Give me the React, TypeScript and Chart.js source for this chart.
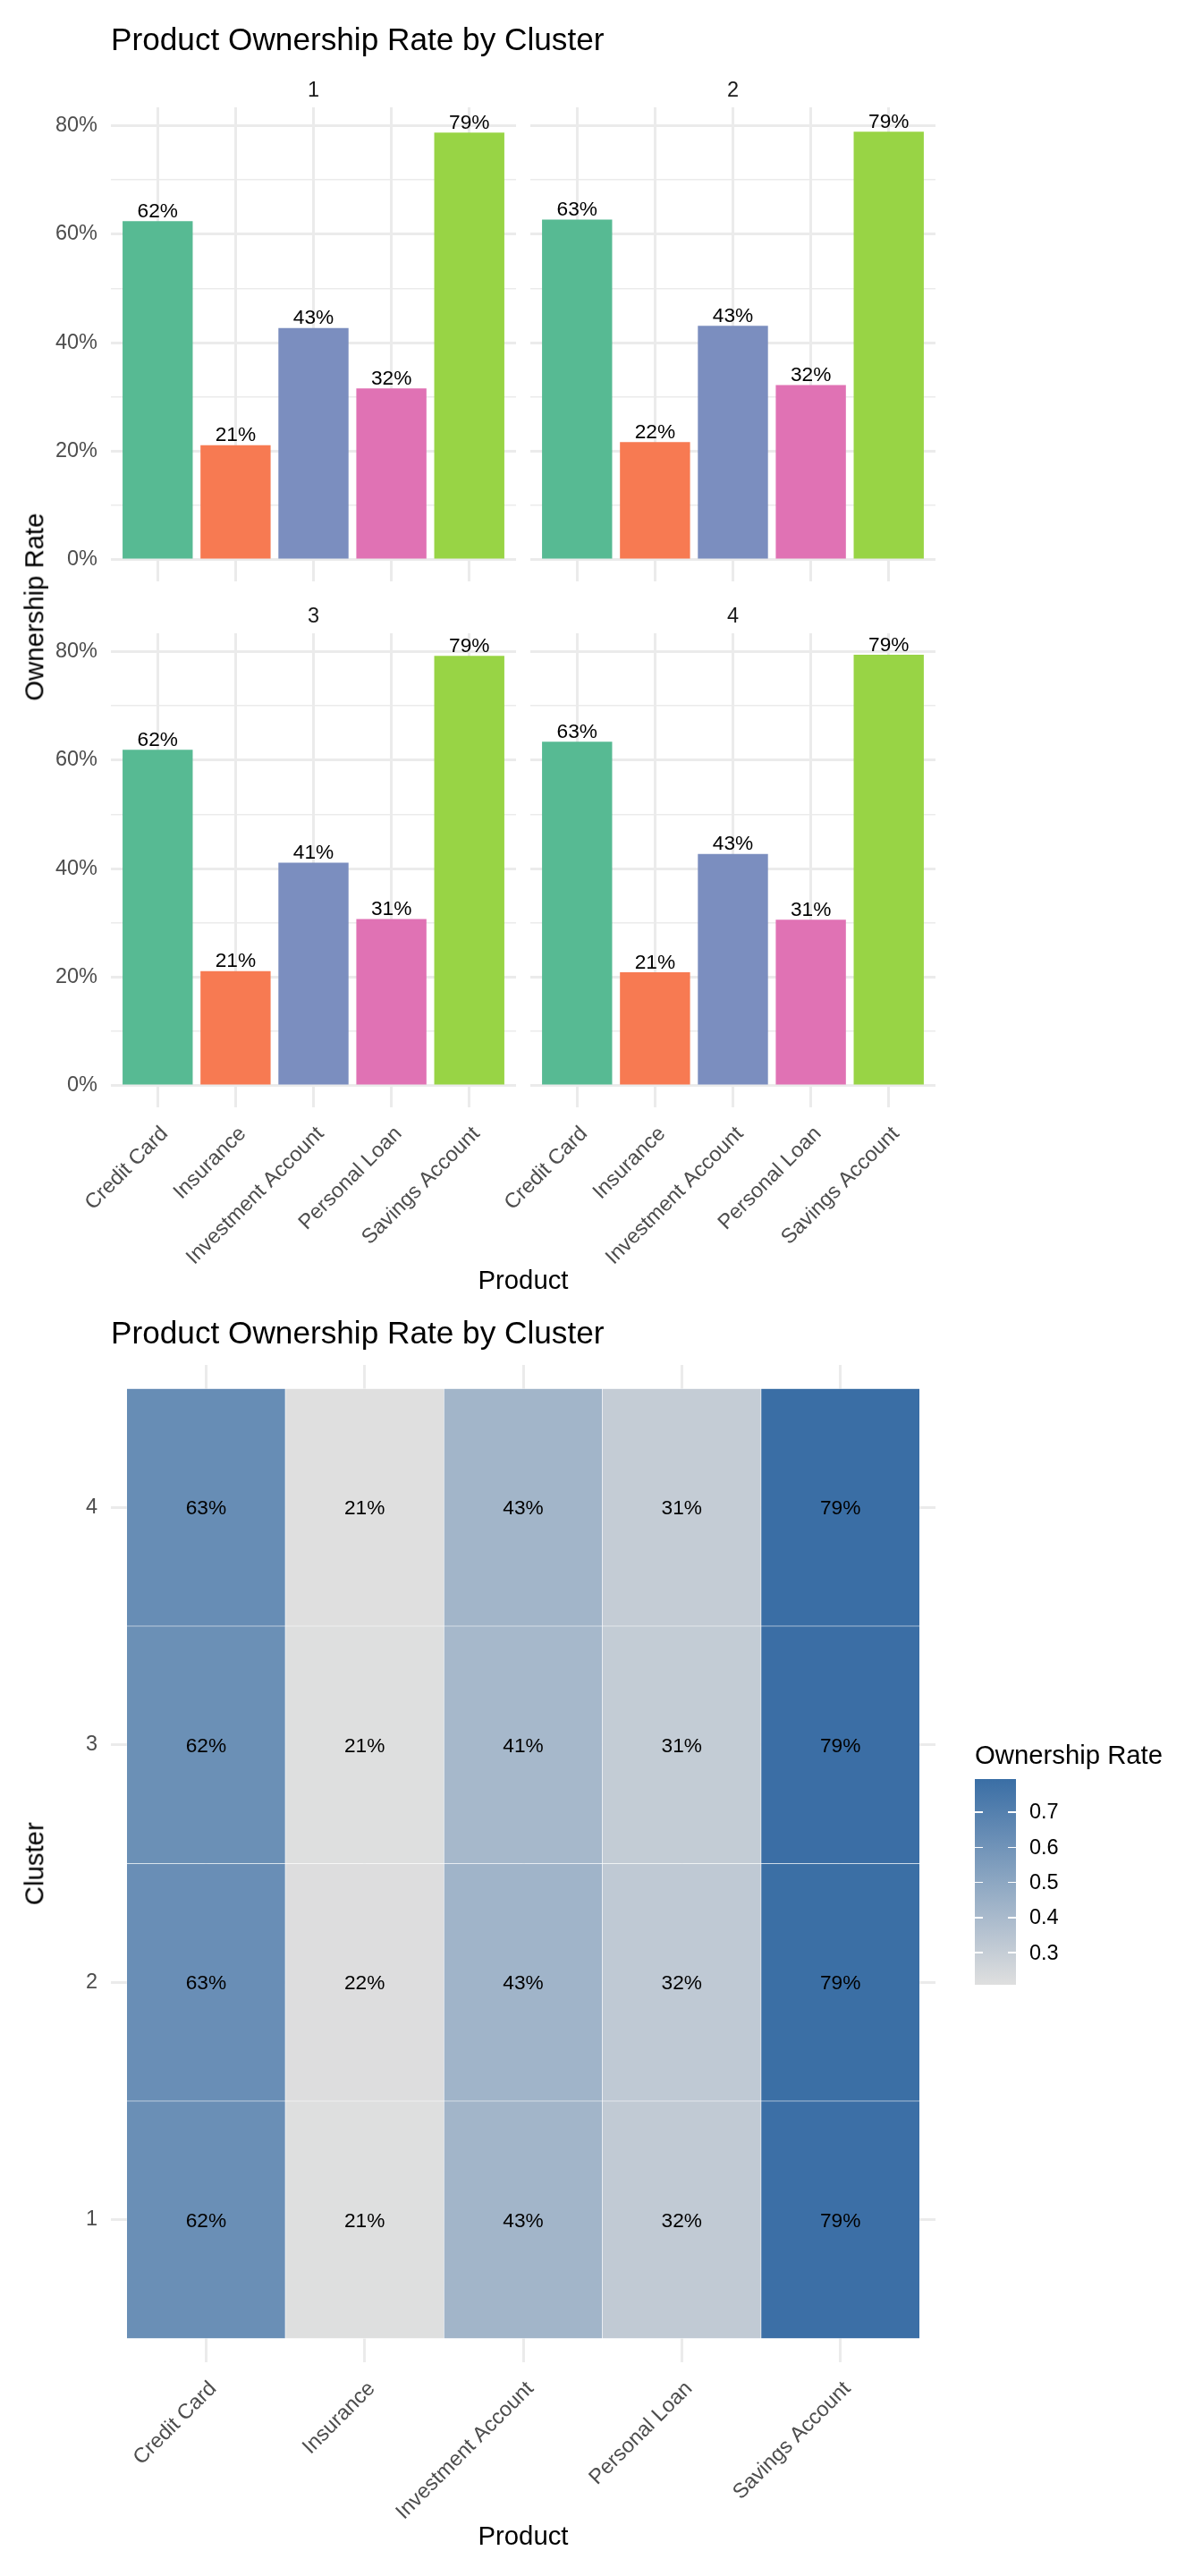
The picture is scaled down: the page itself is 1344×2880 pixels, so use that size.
import React, { useEffect, useRef } from "react";
import { Chart, registerables } from "chart.js";

Chart.register(...registerables);

// ---------------- data ----------------
const PRODUCTS = ["Credit Card", "Insurance", "Investment Account", "Personal Loan", "Savings Account"];
const CLUSTERS = ["1", "2", "3", "4"];
const CLUSTER_1 = [0.624, 0.211, 0.427, 0.316, 0.787];
const CLUSTER_2 = [0.627, 0.217, 0.431, 0.322, 0.789];
const CLUSTER_3 = [0.619, 0.211, 0.411, 0.307, 0.792];
const CLUSTER_4 = [0.634, 0.209, 0.427, 0.306, 0.794];
const CLUSTER_VALUES = [CLUSTER_1, CLUSTER_2, CLUSTER_3, CLUSTER_4];
const LEGEND_TICKS = [0.3, 0.4, 0.5, 0.6, 0.7];
const TITLE = "Product Ownership Rate by Cluster";

// ---------------- style ----------------
const FONT = '"Liberation Sans", Arial, Helvetica, sans-serif';
const BAR_COLORS = ["#57BA93", "#F77A52", "#7B8EBF", "#E072B4", "#98D445"];
const GRID = "#EBEBEB";
const AXIS_TEXT = "#4D4D4D";
const HEAT_LOW = [223, 223, 223];
const HEAT_HIGH = [58, 110, 165];
const PAD = 80;

Chart.defaults.font.family = FONT;

const ALL_VALUES = CLUSTER_VALUES.flat();
const DATA_MAX = Math.max(...ALL_VALUES);
const HEAT_MIN = Math.min(...ALL_VALUES);
const HEAT_MAX = DATA_MAX;
const Y_MIN = -DATA_MAX * 0.05;
const Y_MAX = DATA_MAX * 1.05;

const pct = (v: number) => `${Math.round(v * 100)}%`;

function heatColor(v: number) {
  const t = (v - HEAT_MIN) / (HEAT_MAX - HEAT_MIN);
  const c = HEAT_LOW.map((lo, i) => Math.round(lo + (HEAT_HIGH[i] - lo) * t));
  return `rgb(${c[0]},${c[1]},${c[2]})`;
}
const rgb = (c: number[]) => `rgb(${c[0]},${c[1]},${c[2]})`;

type Area = { L: number; T: number; R: number; B: number };
type Spec = { area: Area; leftW: number; bottomH: number; make: () => any };

function rect(s: Spec) {
  return {
    left: s.area.L - s.leftW - PAD,
    top: s.area.T - PAD,
    width: s.area.R - s.area.L + s.leftW + 2 * PAD,
    height: s.area.B - s.area.T + s.bottomH + 2 * PAD,
  };
}

const barLabelPlugin = {
  id: "barLabels",
  afterDatasetsDraw(chart: any) {
    const ctx = chart.ctx;
    const meta = chart.getDatasetMeta(0);
    const data = chart.data.datasets[0].data;
    ctx.save();
    ctx.font = `22.7px ${FONT}`;
    ctx.fillStyle = "#000000";
    ctx.textAlign = "center";
    ctx.textBaseline = "alphabetic";
    meta.data.forEach((el: any, i: number) => {
      ctx.fillText(pct(data[i].y), el.x, el.y - 4.5);
    });
    ctx.restore();
  },
};

const heatLabelPlugin = {
  id: "heatLabels",
  afterDatasetsDraw(chart: any) {
    const ctx = chart.ctx;
    ctx.save();
    ctx.font = `22.7px ${FONT}`;
    ctx.fillStyle = "#000000";
    ctx.textAlign = "center";
    ctx.textBaseline = "alphabetic";
    chart.data.datasets.forEach((ds: any, di: number) => {
      const meta = chart.getDatasetMeta(di);
      meta.data.forEach((el: any, i: number) => {
        const c = el.getCenterPoint();
        ctx.fillText(pct(CLUSTER_VALUES[di][i]), c.x, c.y + 8.1);
      });
    });
    ctx.restore();
  },
};

function xScale(showX: boolean, bottomH: number) {
  return {
    type: "linear",
    min: 0.4,
    max: 5.6,
    offset: false,
    border: { display: false },
    grid: { color: GRID, lineWidth: 3, drawTicks: false, offset: false },
    ticks: {
      display: showX,
      stepSize: 1,
      includeBounds: false,
      autoSkip: false,
      minRotation: 45,
      maxRotation: 45,
      padding: 16,
      labelOffset: 8,
      color: AXIS_TEXT,
      font: { size: 23.5, family: FONT },
      callback: (v: number) => PRODUCTS[Math.round(v) - 1] ?? "",
    },
    afterFit: (s: any) => {
      s.height = bottomH;
    },
  };
}

const isMajor = (v: number) => Math.abs(Math.round(v * 10)) % 2 === 0;

function facetSpec(values: number[], area: Area, showY: boolean, showX: boolean): Spec {
  const leftW = showY ? area.L : 16;
  const bottomH = showX ? 220 : 0;
  return {
    area,
    leftW,
    bottomH,
    make: () => ({
      type: "bar",
      data: {
        datasets: [
          {
            data: values.map((v, i) => ({ x: i + 1, y: v })),
            backgroundColor: BAR_COLORS,
            borderWidth: 0,
            barPercentage: 0.9,
            categoryPercentage: 1,
          },
        ],
      },
      options: {
        responsive: false,
        animation: false,
        events: [],
        layout: { padding: PAD },
        plugins: { legend: { display: false }, tooltip: { enabled: false }, title: { display: false } },
        scales: {
          x: xScale(showX, bottomH),
          y: {
            type: "linear",
            min: Y_MIN,
            max: Y_MAX,
            border: { display: false },
            grid: {
              color: GRID,
              drawTicks: false,
              lineWidth: (ctx: any) => (ctx.tick && isMajor(ctx.tick.value) ? 3 : 1.5),
            },
            ticks: {
              display: showY,
              stepSize: 0.1,
              includeBounds: false,
              autoSkip: false,
              padding: 15,
              color: AXIS_TEXT,
              font: { size: 23.5, family: FONT },
              callback: (v: number) => (isMajor(v) ? pct(v) : ""),
            },
            afterFit: (s: any) => {
              s.width = leftW;
            },
          },
        },
      },
      plugins: [barLabelPlugin],
    }),
  };
}

const HEAT_AREA: Area = { L: 124, T: 1526, R: 1046, B: 2641 };

const heatSpec: Spec = {
  area: HEAT_AREA,
  leftW: HEAT_AREA.L,
  bottomH: 220,
  make: () => ({
    type: "bar",
    data: {
      datasets: CLUSTER_VALUES.map((vals, ci) => ({
        data: vals.map((v, i) => ({ x: i + 1, y: [ci + 0.5, ci + 1.5] })),
        backgroundColor: vals.map(heatColor),
        borderColor: "#FFFFFF",
        borderWidth: 0.6,
        borderSkipped: false,
        barPercentage: 1,
        categoryPercentage: 1,
        grouped: false,
      })),
    },
    options: {
      responsive: false,
      animation: false,
      events: [],
      layout: { padding: PAD },
      plugins: { legend: { display: false }, tooltip: { enabled: false }, title: { display: false } },
      scales: {
        x: xScale(true, 220),
        y: {
          type: "linear",
          min: 0.4,
          max: 4.6,
          border: { display: false },
          grid: { color: GRID, lineWidth: 3, drawTicks: false },
          ticks: {
            stepSize: 1,
            includeBounds: false,
            autoSkip: false,
            padding: 15,
            color: AXIS_TEXT,
            font: { size: 23.5, family: FONT },
            callback: (v: number) => CLUSTERS[Math.round(v) - 1] ?? "",
          },
          afterFit: (s: any) => {
            s.width = HEAT_AREA.L;
          },
        },
      },
    },
    plugins: [heatLabelPlugin],
  }),
};

const PANEL_AREAS: Area[] = [
  { L: 124, T: 120, R: 577, B: 650 },
  { L: 593, T: 120, R: 1046, B: 650 },
  { L: 124, T: 708, R: 577, B: 1238 },
  { L: 593, T: 708, R: 1046, B: 1238 },
];

const SPECS: Spec[] = [
  ...CLUSTER_VALUES.map((vals, i) => facetSpec(vals, PANEL_AREAS[i], i % 2 === 0, i >= 2)),
  heatSpec,
];

// ---------------- text helpers ----------------
function Txt(props: {
  x: number;
  y: number;
  size: number;
  text: string;
  align?: "left" | "center" | "right";
  color?: string;
}) {
  const { x, y, size, text, align = "left", color = "#000000" } = props;
  const w = 900;
  const left = align === "left" ? x : align === "center" ? x - w / 2 : x - w;
  return (
    <div
      style={{
        position: "absolute",
        left,
        top: y - 0.8465 * size,
        width: w,
        height: size,
        lineHeight: `${size}px`,
        fontSize: size,
        textAlign: align,
        color,
        whiteSpace: "nowrap",
        fontFamily: FONT,
      }}
    >
      {text}
    </div>
  );
}

function VTxt(props: { baselineX: number; cy: number; size: number; text: string }) {
  const { baselineX, cy, size, text } = props;
  const w = 700;
  const cx = baselineX - 0.3465 * size;
  return (
    <div
      style={{
        position: "absolute",
        left: cx - w / 2,
        top: cy - size / 2,
        width: w,
        height: size,
        lineHeight: `${size}px`,
        fontSize: size,
        textAlign: "center",
        color: "#000000",
        whiteSpace: "nowrap",
        fontFamily: FONT,
        transform: "rotate(-90deg)",
      }}
    >
      {text}
    </div>
  );
}

const LEG = { x: 1090, top: 1989, w: 46, h: 230 };
const legY = (v: number) => LEG.top + LEG.h - ((v - HEAT_MIN) / (HEAT_MAX - HEAT_MIN)) * LEG.h;

export default function App() {
  const refs = useRef<(HTMLCanvasElement | null)[]>([]);

  useEffect(() => {
    document.body.style.margin = "0";
    const charts = SPECS.map((s, i) => new Chart(refs.current[i] as HTMLCanvasElement, s.make()));
    return () => {
      charts.forEach((c) => c.destroy());
    };
  }, []);

  return (
    <div
      style={{
        position: "absolute",
        left: 0,
        top: 0,
        width: 1344,
        height: 2880,
        overflow: "hidden",
        background: "#FFFFFF",
        fontFamily: FONT,
      }}
    >
      {SPECS.map((s, i) => {
        const r = rect(s);
        return (
          <canvas
            key={i}
            ref={(el) => {
              refs.current[i] = el;
            }}
            width={r.width}
            height={r.height}
            style={{ position: "absolute", left: r.left, top: r.top, width: r.width, height: r.height }}
          />
        );
      })}

      {/* facet chart texts */}
      <Txt x={124} y={56} size={35.2} text={TITLE} />
      {PANEL_AREAS.map((a, i) => (
        <Txt
          key={`strip${i}`}
          x={(a.L + a.R) / 2}
          y={a.T - 20 + 8.4}
          size={23.5}
          text={CLUSTERS[i]}
          align="center"
          color="#1A1A1A"
        />
      ))}
      <VTxt baselineX={48.5} cy={679} size={29.3} text="Ownership Rate" />
      <Txt x={585} y={1441} size={29.3} text="Product" align="center" />

      {/* heatmap texts */}
      <Txt x={124} y={1502} size={35.2} text={TITLE} />
      <VTxt baselineX={48.5} cy={2083.5} size={29.3} text="Cluster" />
      <Txt x={585} y={2845} size={29.3} text="Product" align="center" />

      {/* colour bar legend */}
      <Txt x={LEG.x} y={1972} size={29.3} text="Ownership Rate" />
      <div
        style={{
          position: "absolute",
          left: LEG.x,
          top: LEG.top,
          width: LEG.w,
          height: LEG.h,
          background: `linear-gradient(to top, ${rgb(HEAT_LOW)}, ${rgb(HEAT_HIGH)})`,
        }}
      />
      {LEGEND_TICKS.map((v) => (
        <React.Fragment key={`lt${v}`}>
          <div
            style={{
              position: "absolute",
              left: LEG.x,
              top: legY(v) - 0.75,
              width: LEG.w / 5,
              height: 1.5,
              background: "#FFFFFF",
            }}
          />
          <div
            style={{
              position: "absolute",
              left: LEG.x + LEG.w - LEG.w / 5,
              top: legY(v) - 0.75,
              width: LEG.w / 5,
              height: 1.5,
              background: "#FFFFFF",
            }}
          />
          <Txt x={1151} y={legY(v) + 8.4} size={23.5} text={v.toFixed(1)} />
        </React.Fragment>
      ))}
    </div>
  );
}
